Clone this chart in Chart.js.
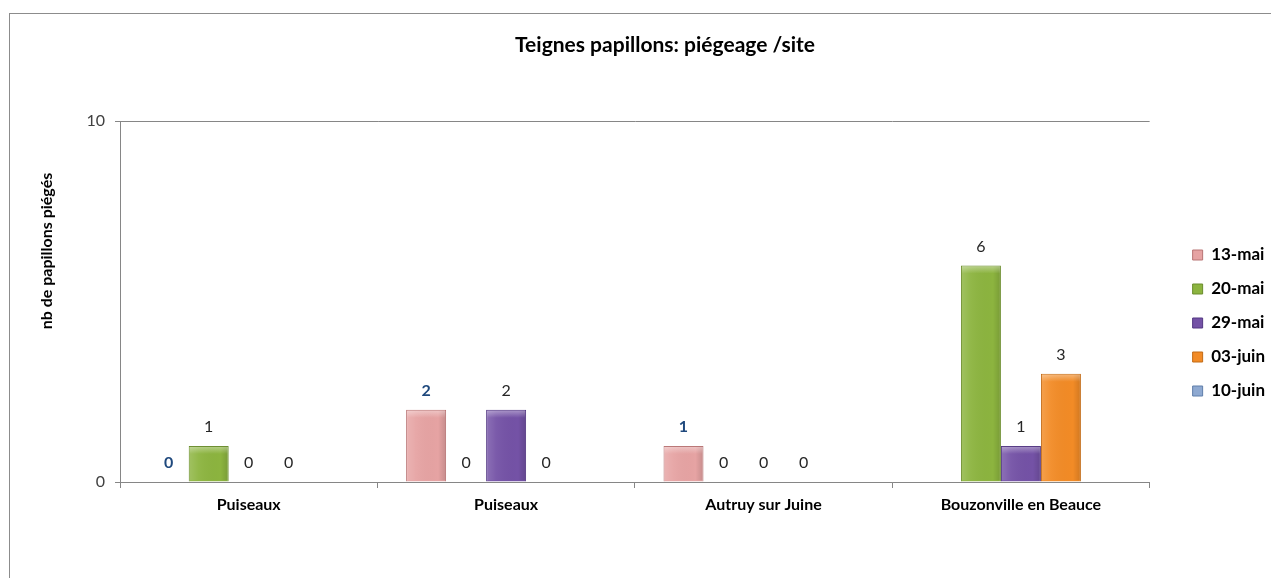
<!DOCTYPE html>
<html>
<head>
<meta charset="utf-8">
<script src="https://cdn.jsdelivr.net/npm/chart.js@4/dist/chart.umd.min.js"></script>
<style>
  html, body { margin: 0; padding: 0; background: #fff; overflow: hidden; }
  #wrap { width: 1320px; height: 578px; }
</style>
</head>
<body>
<div id="wrap"><canvas id="trapChart" width="1320" height="578"></canvas></div>
<script>
// DATA
const sites = ['Puiseaux', 'Puiseaux', 'Autruy sur Juine', 'Bouzonville en Beauce'];
const dates = ['13-mai', '20-mai', '29-mai', '03-juin', '10-juin'];
const mai13 = [0, 2, 1, null];
const mai20 = [1, 0, 0, 6];
const mai29 = [0, 2, 0, 1];
const juin03 = [0, 0, 0, 3];
const juin10 = [null, null, null, null];
const yTicks = [0, 10];

const seriesValues = [mai13, mai20, mai29, juin03, juin10];
const fills = ['#E6A3A3', '#8CB43F', '#7452A6', '#F28B26', '#8EA9D1'];
const edges = ['#B87474', '#6A8C2C', '#533782', '#C26A15', '#5F7EAA'];

const FONT = 'Lato, "Open Sans", "Liberation Sans", sans-serif';

// the axis title sits above the middle of the axis: pad it with leading spaces
const yTitle = 'nb de papillons piégés';
const m = document.createElement('canvas').getContext('2d');
m.font = 'bold 16px ' + FONT;
const nSpaces = Math.round(100 / m.measureText(' ').width);
const yTitleText = ' '.repeat(nSpaces) + yTitle;

// outer frame of the chart
const framePlugin = {
  id: 'frame',
  beforeDraw(chart) {
    const c = chart.ctx;
    c.save();
    c.fillStyle = '#fff';
    c.fillRect(0, 0, chart.width, chart.height);
    c.strokeStyle = '#8c8c8c';
    c.lineWidth = 1;
    c.strokeRect(9.5, 13.5, chart.width, chart.height + 40);
    c.restore();
  }
};

// light bevel on the bars + value labels
const barLabels = {
  id: 'barLabels',
  afterDatasetsDraw(chart) {
    const c = chart.ctx;
    c.save();
    chart.data.datasets.forEach((ds, di) => {
      const meta = chart.getDatasetMeta(di);
      meta.data.forEach((bar, i) => {
        const v = ds.data[i];
        if (v === null || v === undefined) return;
        const p = bar.getProps(['x', 'y', 'base', 'width'], true);
        if (p.base - p.y > 2) {
          const g = c.createLinearGradient(p.x - p.width / 2, 0, p.x + p.width / 2, 0);
          g.addColorStop(0, 'rgba(255,255,255,0.18)');
          g.addColorStop(0.25, 'rgba(255,255,255,0.05)');
          g.addColorStop(0.8, 'rgba(0,0,0,0.0)');
          g.addColorStop(1, 'rgba(0,0,0,0.14)');
          c.fillStyle = g;
          c.fillRect(p.x - p.width / 2 + 1, p.y + 1, p.width - 2, p.base - p.y - 2);
          const t = c.createLinearGradient(0, p.y, 0, p.y + 8);
          t.addColorStop(0, 'rgba(255,255,255,0.4)');
          t.addColorStop(1, 'rgba(255,255,255,0)');
          c.fillStyle = t;
          c.fillRect(p.x - p.width / 2 + 1, p.y + 1, p.width - 2, Math.min(8, p.base - p.y - 2));
        }
        c.textAlign = 'center';
        c.textBaseline = 'middle';
        if (di === 0) {
          c.font = 'bold 16px ' + FONT;
          c.fillStyle = '#1F497D';
        } else {
          c.font = '16px ' + FONT;
          c.fillStyle = '#262626';
        }
        c.fillText(String(v), p.x, p.y - 19);
      });
    });
    c.restore();
  }
};

// empty axis used only to reserve horizontal room
const spacer = (w, weight) => ({
  type: 'linear',
  position: 'right',
  weight: weight,
  afterFit: s => { s.width = w; },
  grid: { display: false },
  border: { display: false },
  ticks: { display: false }
});

const ctx = document.getElementById('trapChart').getContext('2d');
new Chart(ctx, {
  type: 'bar',
  data: {
    labels: sites,
    datasets: dates.map((d, k) => ({
      label: d,
      data: seriesValues[k],
      backgroundColor: fills[k],
      borderColor: edges[k],
      borderWidth: 1,
      barPercentage: 1.0,
      categoryPercentage: 0.777
    }))
  },
  options: {
    responsive: false,
    animation: false,
    layout: { padding: { left: 10, right: 0, top: 0, bottom: 0 } },
    plugins: {
      title: {
        display: true,
        text: 'Teignes papillons: piégeage /site',
        color: '#000',
        font: { family: FONT, size: 21, weight: 'bold' },
        padding: { top: 33, bottom: 63 }
      },
      legend: {
        position: 'right',
        title: { display: true, text: ' ', font: { size: 10 }, padding: { top: 56, bottom: 0 } },
        labels: {
          boxWidth: 10,
          boxHeight: 10,
          padding: 17,
          color: '#000',
          font: { family: FONT, size: 17, weight: 'bold' }
        }
      },
      tooltip: { enabled: false }
    },
    scales: {
      x: {
        afterFit: s => { s.height = 96; },
        grid: { drawOnChartArea: false, drawTicks: true, tickLength: 6, color: '#868686' },
        border: { color: '#868686' },
        ticks: { color: '#000', padding: 7, font: { family: FONT, size: 16, weight: 'bold' } }
      },
      y: {
        min: 0,
        max: 10,
        afterFit: s => { s.width = 110; },
        afterBuildTicks: s => { s.ticks = yTicks.map(v => ({ value: v })); },
        grid: { color: '#868686', tickLength: 5 },
        border: { color: '#868686' },
        ticks: { color: '#404040', padding: 10, font: { family: FONT, size: 16 } },
        title: {
          display: true,
          text: yTitleText,
          color: '#000',
          font: { family: FONT, size: 16, weight: 'bold' },
          padding: { top: 27, bottom: 0 }
        }
      },
      gapInner: spacer(26, 0),
      gapOuter: spacer(45, 2000)
    }
  },
  plugins: [framePlugin, barLabels]
});
</script>
</body>
</html>
